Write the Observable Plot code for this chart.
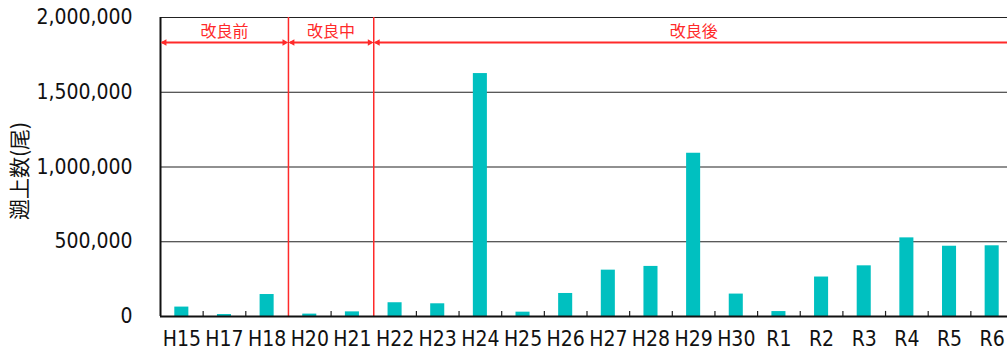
<!DOCTYPE html>
<html><head><meta charset="utf-8">
<script src="https://cdn.jsdelivr.net/npm/d3@7"></script>
<script src="https://cdn.jsdelivr.net/npm/@observablehq/plot@0.6"></script>
<style>
html,body{margin:0;padding:0;overflow:hidden;background:#fff}
#chart svg{max-width:none !important;display:block}
</style>
</head><body><div id="chart"></div>
<script>
const years = ["H15","H17","H18","H20","H21","H22","H23","H24","H25","H26","H27","H28","H29","H30","R1","R2","R3","R4","R5","R6"];
const counts = [63000,13000,147000,16000,31000,92000,85000,1625000,29000,154000,310000,335000,1092000,150000,33000,264000,339000,526000,470000,473000];
const phaseNames = ["改良前","改良中","改良後"];
const phaseFirst = ["H15","H20","H22"];
const phaseLast = ["H18","H21","R6"];
const yTicks = [0,500000,1000000,1500000,2000000];
const yTitle = "遡上数(尾)";

const rows = years.map((y,i)=>({year:y, i, value:counts[i]}));
const phases = phaseNames.map((name,k)=>({name, x1: years.indexOf(phaseFirst[k]) - 0.5, x2: years.indexOf(phaseLast[k]) + 0.5}));
const phaseBounds = phases.slice(1).map(p=>p.x1);
const catBounds = d3.range(years.length-1).map(i=>i+0.5).filter(b=>!phaseBounds.includes(b));
const yMax = yTicks[yTicks.length-1];
const red = "#ff2a2a";
const jp = "'Noto Sans CJK JP', sans-serif";

const chart = Plot.plot({
  width: 1013, height: 354,
  marginLeft: 160, marginRight: 0, marginTop: 17, marginBottom: 38,
  style: {fontFamily: "'Liberation Sans Narrow','DejaVu Sans Condensed','Roboto',sans-serif", fontSize: "21px", color: "#111", background: "#fff"},
  x: {domain: [-0.5, years.length-0.5], ticks: d3.range(years.length), tickFormat: i=>years[i], tickSize: 0, tickPadding: 15, label: null},
  y: {domain: [0, yMax], ticks: yTicks, tickFormat: d3.format(","), tickSize: 0, tickPadding: 28, label: null},
  marks: [
    Plot.ruleY(yTicks.filter(d=>d>0), {stroke: "#222", strokeWidth: 1.2}),
    Plot.rectY(rows, {x1: d=>d.i-0.5, x2: d=>d.i+0.5, y: "value", insetLeft: 14.3, insetRight: 14.3, fill: "#00c0c0"}),
    Plot.ruleX(catBounds, {x: d=>d, y1: ()=>0, y2: ()=>34000, stroke: "#222", strokeWidth: 1.2}),
    Plot.ruleX(phaseBounds, {x: d=>d, stroke: red, strokeWidth: 1.5}),
    Plot.ruleY([0], {stroke: "#111", strokeWidth: 2}),
    Plot.ruleX([-0.5], {stroke: "#111", strokeWidth: 2}),
    Plot.ruleY(phases, {y: ()=>yMax, x1: "x1", x2: "x2", dy: 25, insetLeft: 2, insetRight: 2, stroke: red, strokeWidth: 2}),
    Plot.dot(phases, {x: "x1", y: ()=>yMax, dy: 25, dx: 4, symbol: "triangle2", rotate: -90, r: 3.2, fill: red, stroke: "none"}),
    Plot.dot(phases, {x: "x2", y: ()=>yMax, dy: 25, dx: -4, symbol: "triangle2", rotate: 90, r: 3.2, fill: red, stroke: "none"}),
    Plot.text(phases, {x: d=>(d.x1+d.x2)/2, y: ()=>yMax, dy: 14, text: "name", fill: red, fontSize: 16, fontFamily: jp}),
    Plot.text([yTitle], {frameAnchor: "left", textAnchor: "middle", text: d=>d, rotate: -90, dx: -140, dy: 4, fontSize: 21, fontFamily: jp, fill: "#111"})
  ]
});
document.getElementById("chart").appendChild(chart);
</script>
</body></html>
